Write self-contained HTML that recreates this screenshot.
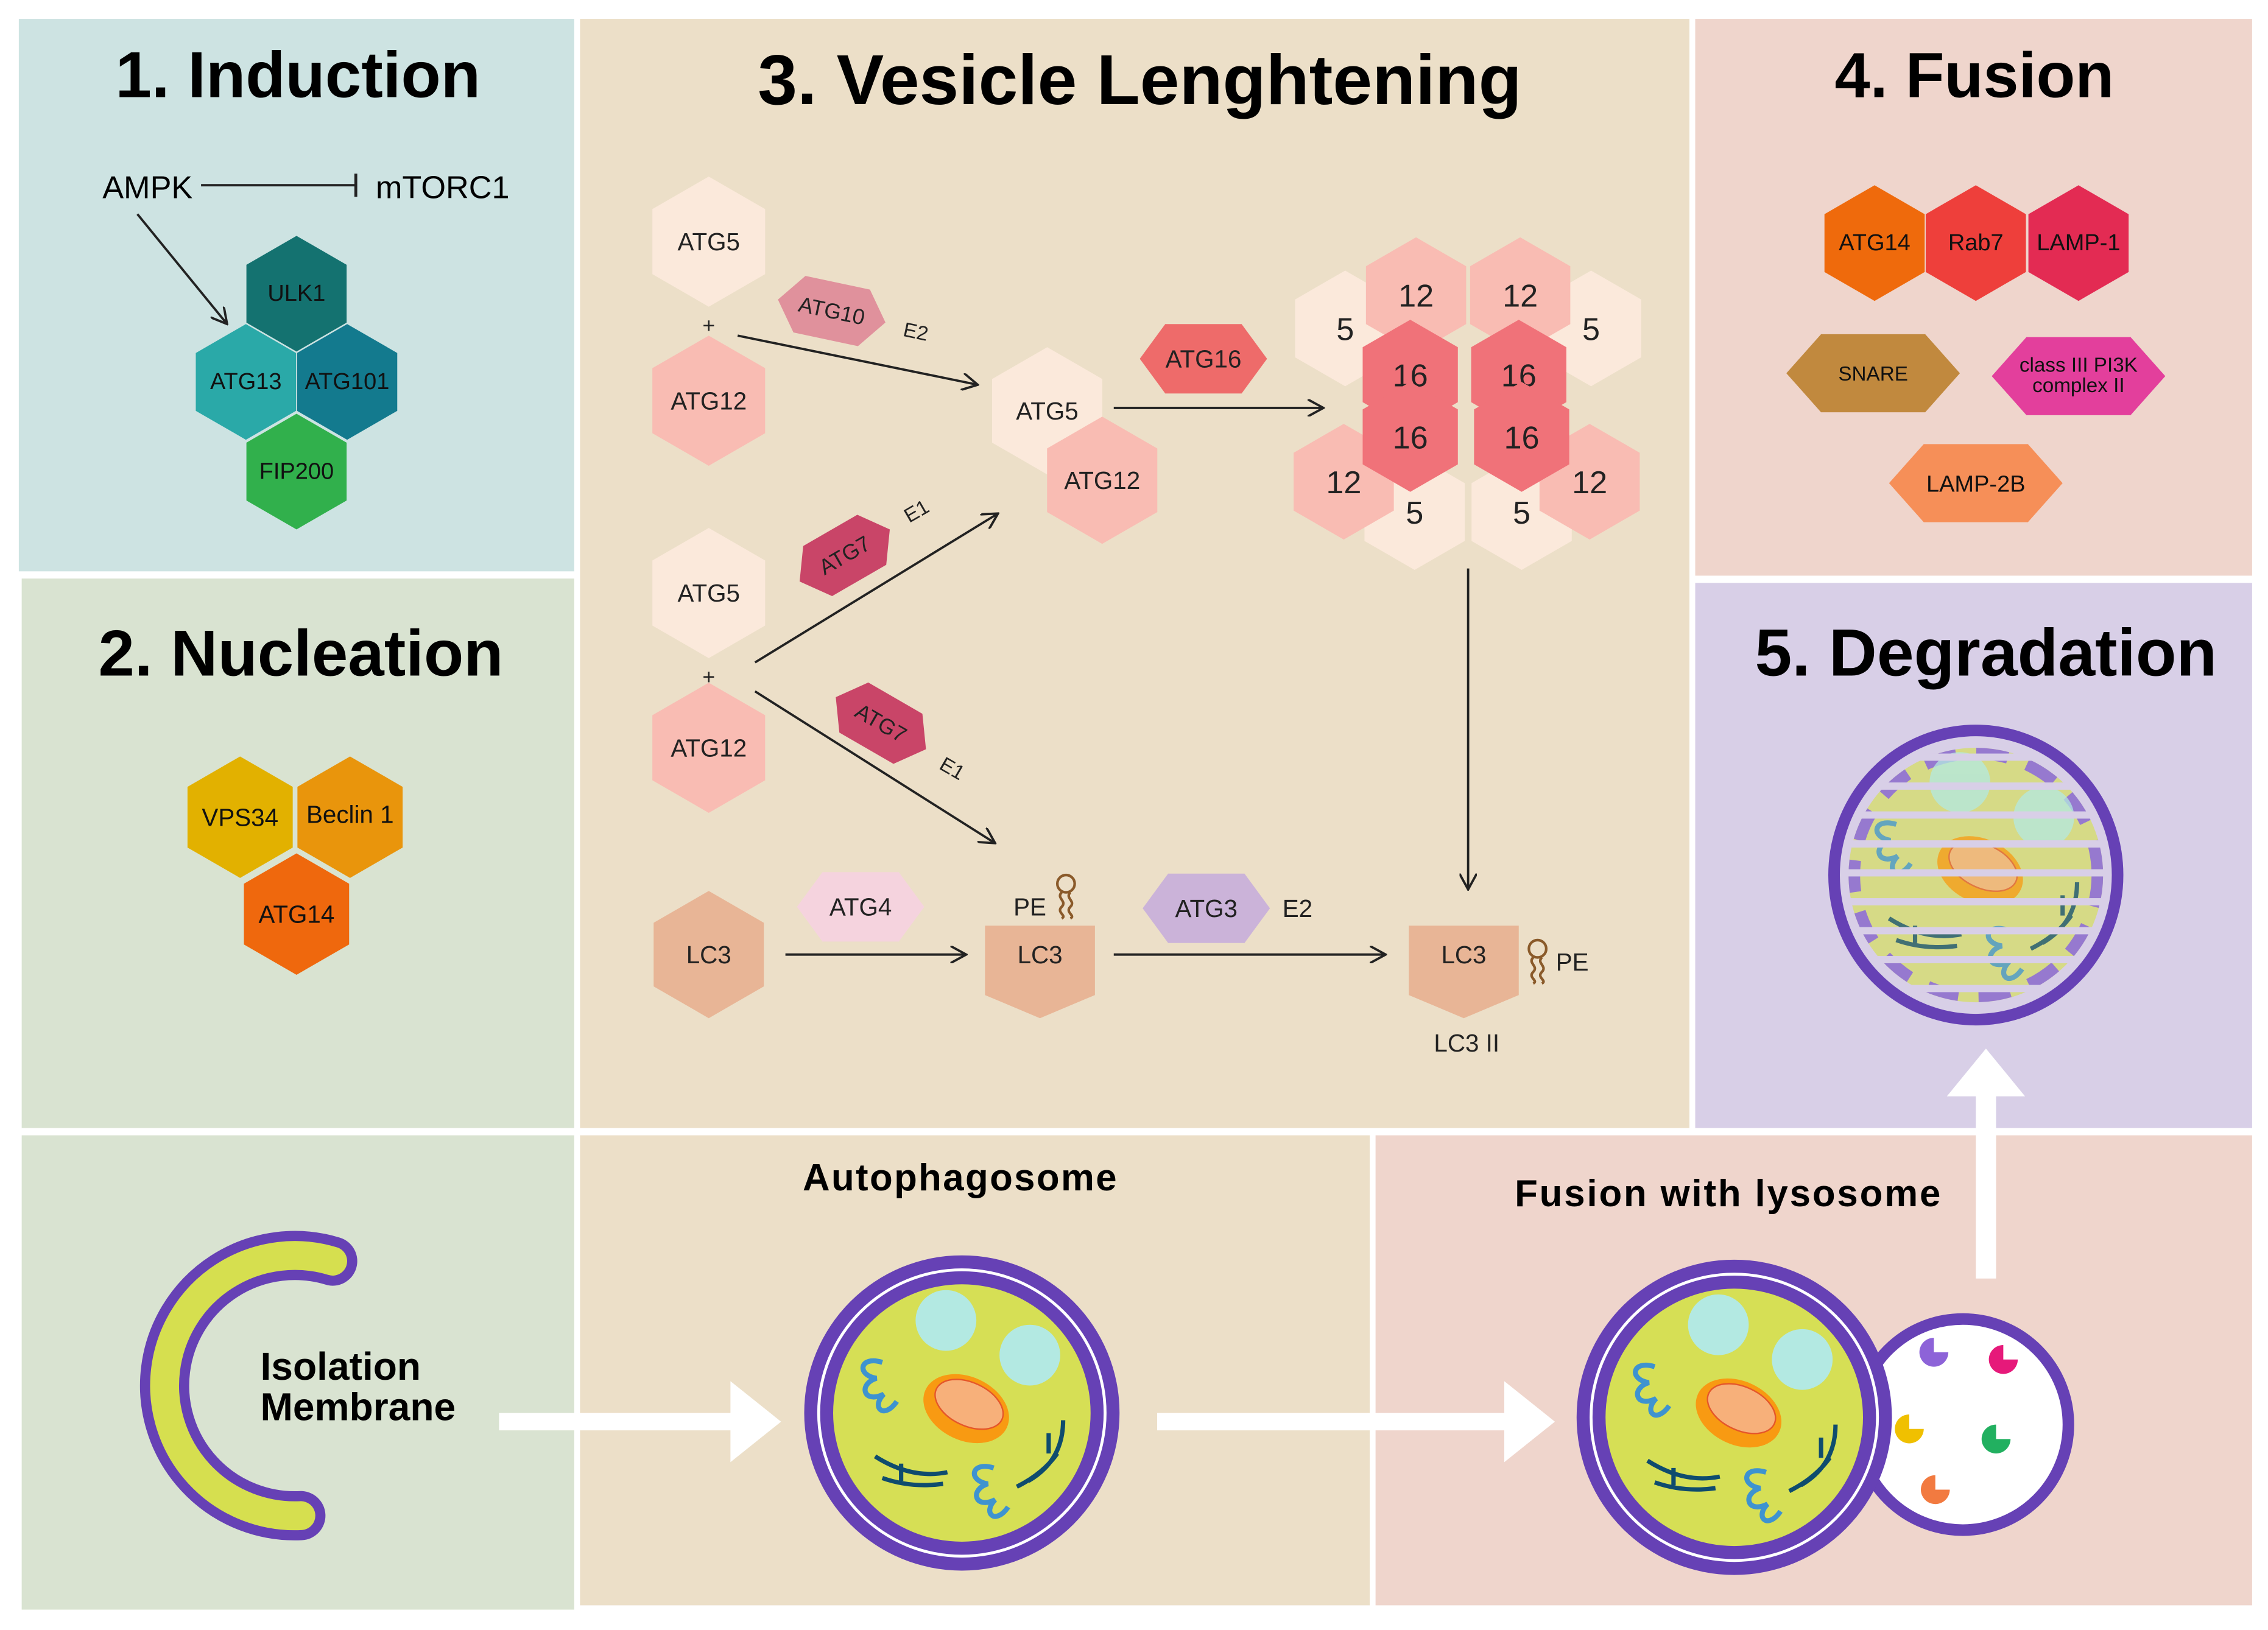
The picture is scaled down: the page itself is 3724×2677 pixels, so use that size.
<!DOCTYPE html>
<html><head><meta charset="utf-8"><style>
html,body{margin:0;padding:0;background:#fff}
svg{display:block}
text{font-family:"Liberation Sans",sans-serif}
</style></head><body>
<svg width="3724" height="2677" viewBox="0 0 1568 1127" xmlns="http://www.w3.org/2000/svg">
<defs>
<polygon id="h" points="0,-1 .866,-.5 .866,.5 0,1 -.866,.5 -.866,-.5"/>
<polygon id="fh" points="-1,0 -.6,-1 .6,-1 1,0 .6,1 -.6,1"/>
<marker id="ar" markerWidth="12" markerHeight="12" refX="11" refY="6" orient="auto" markerUnits="userSpaceOnUse"><path d="M0,0 L11,6 L0,12" fill="none" stroke="#222" stroke-width="1.6"/></marker>
<clipPath id="dc"><circle r="90"/></clipPath>
<g id="cell">
<circle r="21" cx="-11" cy="-64" fill="#b3e9e2"/>
<circle r="21" cx="47" cy="-40" fill="#b3e9e2"/>
<ellipse cx="3" cy="-3" rx="31" ry="22" transform="rotate(25 3 -3)" fill="#f89a12"/>
<ellipse cx="5" cy="-6" rx="25" ry="15" transform="rotate(25 5 -6)" fill="#f7b07a" stroke="#e5562a" stroke-width="1"/>
<path d="M-55,-35 c-16,-5 -18,9 -4,11 c-13,4 -9,18 5,11 c-9,9 0,18 9,5" fill="none" stroke="#3e93d0" stroke-width="3.5"/>
<path d="M22,38 c-16,-5 -18,9 -4,11 c-13,4 -9,18 5,11 c-9,9 0,18 9,5" fill="none" stroke="#3e93d0" stroke-width="3.5"/>
<path d="M-60,30 q25,16 50,11 M-55,45 q20,7 42,4 M-42,35 v12 M70,5 q0,28 -24,42 M66,28 q-10,14 -28,23 M60,14 v14" fill="none" stroke="#0f4c6e" stroke-width="3"/>
</g>
</defs>
<!-- panels -->
<rect x="13" y="13" width="384" height="382" fill="#cde3e2"/>
<rect x="15" y="400" width="382" height="380" fill="#d9e3d1"/>
<rect x="401" y="13" width="767" height="767" fill="#ecdfc8"/>
<rect x="1172" y="13" width="385" height="385" fill="#efd5cc"/>
<rect x="1172" y="403" width="385" height="377" fill="#d8cfe7"/>
<rect x="15" y="785" width="382" height="328" fill="#d9e3d1"/>
<rect x="401" y="785" width="546" height="325" fill="#ecdfc8"/>
<rect x="951" y="785" width="606" height="325" fill="#efd5cc"/>

<!-- Induction -->
<text x="206" y="67" font-size="45" font-weight="bold" text-anchor="middle">1. Induction</text>
<text x="102" y="137" font-size="22" text-anchor="middle">AMPK</text>
<line x1="139" y1="128" x2="246" y2="128" stroke="#222" stroke-width="1.6"/><line x1="246" y1="120" x2="246" y2="136" stroke="#222" stroke-width="2"/>
<text x="306" y="137" font-size="22" text-anchor="middle">mTORC1</text>
<line x1="95" y1="148" x2="157" y2="224" stroke="#222" stroke-width="1.6" marker-end="url(#ar)"/>
<use href="#h" transform="translate(205,203) scale(40)" fill="#147270"/>
<use href="#h" transform="translate(170,264) scale(40)" fill="#2aa9a8"/>
<use href="#h" transform="translate(240,264) scale(40)" fill="#137a8e"/>
<use href="#h" transform="translate(205,326) scale(40)" fill="#31b04c"/>
<g font-size="16" text-anchor="middle" fill="#111"><text x="205" y="208">ULK1</text><text x="170" y="269">ATG13</text><text x="240" y="269">ATG101</text><text x="205" y="331">FIP200</text></g>

<!-- Nucleation -->
<text x="208" y="467" font-size="45" font-weight="bold" text-anchor="middle">2. Nucleation</text>
<use href="#h" transform="translate(166,565) scale(42)" fill="#e2b100"/>
<use href="#h" transform="translate(242,565) scale(42)" fill="#e9950c"/>
<use href="#h" transform="translate(205,632) scale(42)" fill="#ef680d"/>
<g font-size="17" text-anchor="middle" fill="#111"><text x="166" y="571">VPS34</text><text x="242" y="569">Beclin 1</text><text x="205" y="638">ATG14</text></g>

<!-- Vesicle -->
<text x="788" y="72" font-size="49" font-weight="bold" text-anchor="middle">3. Vesicle Lenghtening</text>
<g fill="#222" font-size="17" text-anchor="middle">
<use href="#h" transform="translate(490,167) scale(45)" fill="#fbe9db"/><text x="490" y="173">ATG5</text>
<text x="490" y="230" font-size="15">+</text>
<use href="#h" transform="translate(490,277) scale(45)" fill="#f9bcb3"/><text x="490" y="283">ATG12</text>
<use href="#fh" transform="translate(575,215) rotate(12) scale(38,20)" fill="#e0919c"/><text x="575" y="220" font-size="15" transform="rotate(12 575 215)">ATG10</text>
<text x="633" y="234" font-size="14" transform="rotate(12 633 230)">E2</text>
<line x1="510" y1="232" x2="676" y2="266" stroke="#222" stroke-width="1.6" marker-end="url(#ar)"/>
<use href="#h" transform="translate(724,284) scale(44)" fill="#fbe9db"/><text x="724" y="290">ATG5</text>
<use href="#h" transform="translate(762,332) scale(44)" fill="#f9bcb3"/><text x="762" y="338">ATG12</text>
<use href="#fh" transform="translate(832,248) scale(44,24)" fill="#ee6b6a"/><text x="832" y="254">ATG16</text>
<line x1="770" y1="282" x2="915" y2="282" stroke="#222" stroke-width="1.6" marker-end="url(#ar)"/>
</g>
<g font-size="22" text-anchor="middle" fill="#222">
<use href="#h" transform="translate(930,227) scale(40)" fill="#fbe9db"/><text x="930" y="235">5</text>
<use href="#h" transform="translate(1100,227) scale(40)" fill="#fbe9db"/><text x="1100" y="235">5</text>
<use href="#h" transform="translate(979,204) scale(40)" fill="#f9bcb3"/><text x="979" y="212">12</text>
<use href="#h" transform="translate(1051,204) scale(40)" fill="#f9bcb3"/><text x="1051" y="212">12</text>
<use href="#h" transform="translate(978,354) scale(40)" fill="#fbe9db"/><text x="978" y="362">5</text>
<use href="#h" transform="translate(1052,354) scale(40)" fill="#fbe9db"/><text x="1052" y="362">5</text>
<use href="#h" transform="translate(929,333) scale(40)" fill="#f9bcb3"/><text x="929" y="341">12</text>
<use href="#h" transform="translate(1099,333) scale(40)" fill="#f9bcb3"/><text x="1099" y="341">12</text>
<use href="#h" transform="translate(975,259) scale(38)" fill="#f07279"/><text x="975" y="267">16</text>
<use href="#h" transform="translate(1050,259) scale(38)" fill="#f07279"/><text x="1050" y="267">16</text>
<use href="#h" transform="translate(975,302) scale(38)" fill="#f07279"/><text x="975" y="310">16</text>
<use href="#h" transform="translate(1052,302) scale(38)" fill="#f07279"/><text x="1052" y="310">16</text>
</g>
<line x1="1015" y1="393" x2="1015" y2="615" stroke="#222" stroke-width="1.6" marker-end="url(#ar)"/>
<g fill="#222" font-size="17" text-anchor="middle">
<use href="#h" transform="translate(490,410) scale(45)" fill="#fbe9db"/><text x="490" y="416">ATG5</text>
<text x="490" y="473" font-size="15">+</text>
<use href="#h" transform="translate(490,517) scale(45)" fill="#f9bcb3"/><text x="490" y="523">ATG12</text>
<use href="#fh" transform="translate(584,384) rotate(-30) scale(36,20)" fill="#c94568"/><text x="584" y="389" font-size="15" transform="rotate(-30 584 384)">ATG7</text>
<text x="634" y="358" font-size="14" transform="rotate(-30 634 354)">E1</text>
<line x1="522" y1="458" x2="690" y2="355" stroke="#222" stroke-width="1.6" marker-end="url(#ar)"/>
<use href="#fh" transform="translate(609,500) rotate(30) scale(36,20)" fill="#c94568"/><text x="609" y="505" font-size="15" transform="rotate(30 609 500)">ATG7</text>
<text x="658" y="536" font-size="14" transform="rotate(30 658 532)">E1</text>
<line x1="522" y1="478" x2="688" y2="583" stroke="#222" stroke-width="1.6" marker-end="url(#ar)"/>
<use href="#h" transform="translate(490,660) scale(44)" fill="#e8b596"/><text x="490" y="666">LC3</text>
<line x1="543" y1="660" x2="668" y2="660" stroke="#222" stroke-width="1.6" marker-end="url(#ar)"/>
<use href="#fh" transform="translate(595,627) scale(44,24)" fill="#f5d3de"/><text x="595" y="633">ATG4</text>
<polygon points="681,640 757,640 757,688 719,704 681,688" fill="#e8b596"/><text x="719" y="666">LC3</text>
<text x="712" y="633">PE</text>
<g fill="none" stroke="#8a5a2a" stroke-width="1.8"><circle cx="737" cy="611" r="6"/><path d="M734,617 c-4,4 4,6 0,10 c-4,4 4,6 0,8 M740,617 c-4,4 4,6 0,10 c-4,4 4,6 0,8"/></g>
<use href="#fh" transform="translate(834,628) scale(44,24)" fill="#cbb3d9"/><text x="834" y="634">ATG3</text>
<text x="897" y="634">E2</text>
<line x1="770" y1="660" x2="958" y2="660" stroke="#222" stroke-width="1.6" marker-end="url(#ar)"/>
<polygon points="974,640 1050,640 1050,688 1012,704 974,688" fill="#e8b596"/><text x="1012" y="666">LC3</text>
<g fill="none" stroke="#8a5a2a" stroke-width="1.8"><circle cx="1063" cy="656" r="6"/><path d="M1060,662 c-4,4 4,6 0,10 c-4,4 4,6 0,8 M1066,662 c-4,4 4,6 0,10 c-4,4 4,6 0,8"/></g>
<text x="1087" y="671">PE</text>
<text x="1014" y="727">LC3 II</text>
</g>

<!-- Fusion -->
<text x="1365" y="67" font-size="44" font-weight="bold" text-anchor="middle">4. Fusion</text>
<use href="#h" transform="translate(1296,168) scale(40)" fill="#ef6a0c"/>
<use href="#h" transform="translate(1366,168) scale(40)" fill="#ee3f3b"/>
<use href="#h" transform="translate(1437,168) scale(40)" fill="#e32b53"/>
<use href="#fh" transform="translate(1295,258) scale(60,27)" fill="#c1893e"/>
<use href="#fh" transform="translate(1437,260) scale(60,27)" fill="#e33f9c"/>
<use href="#fh" transform="translate(1366,334) scale(60,27)" fill="#f68f58"/>
<g font-size="16" text-anchor="middle" fill="#111">
<text x="1296" y="173">ATG14</text><text x="1366" y="173">Rab7</text><text x="1437" y="173">LAMP-1</text>
<text x="1295" y="263" font-size="14">SNARE</text>
<text x="1437" y="257" font-size="14">class III PI3K</text><text x="1437" y="271" font-size="14">complex II</text>
<text x="1366" y="340">LAMP-2B</text>
</g>

<!-- Degradation -->
<text x="1373" y="467" font-size="46" font-weight="bold" text-anchor="middle">5. Degradation</text>
<g transform="translate(1366,605)">
<ellipse rx="98" ry="100" fill="#d8cfe7" stroke="#6641b5" stroke-width="8"/>
<g clip-path="url(#dc)">
<circle r="88" fill="#d6da86"/>
<circle r="84" fill="none" stroke="#9679cf" stroke-width="8" stroke-dasharray="22 14"/>
<g opacity="0.75"><use href="#cell"/></g>
<g fill="#d8cfe7">
<rect x="-100" y="-84" width="200" height="5"/><rect x="-100" y="-64" width="200" height="5"/><rect x="-100" y="-44" width="200" height="5"/><rect x="-100" y="-24" width="200" height="5"/><rect x="-100" y="-4" width="200" height="5"/><rect x="-100" y="16" width="200" height="5"/><rect x="-100" y="36" width="200" height="5"/><rect x="-100" y="56" width="200" height="5"/><rect x="-100" y="76" width="200" height="5"/>
</g>
</g>
</g>
<polygon points="1366,884 1380,884 1380,758 1400,758 1373,725 1346,758 1366,758" fill="#fff"/>

<!-- Bottom -->
<g transform="translate(8,0)">
<path d="M222,872 A90,90 0 1 0 200,1048" fill="none" stroke="#6641b5" stroke-width="34" stroke-linecap="round"/>
<path d="M222,872 A90,90 0 1 0 200,1048" fill="none" stroke="#d6df4f" stroke-width="20" stroke-linecap="round"/>
</g>
<text x="180" y="954" font-size="27" font-weight="bold">Isolation</text>
<text x="180" y="982" font-size="27" font-weight="bold">Membrane</text>
<polygon points="345,977 505,977 505,955 540,983 505,1011 505,989 345,989" fill="#fff"/>
<text x="664" y="823" font-size="26" font-weight="bold" text-anchor="middle" letter-spacing="1">Autophagosome</text>
<g transform="translate(665,977)">
<circle r="109" fill="#6641b5"/><circle r="100" fill="#fff"/><circle r="98" fill="#6641b5"/><circle r="89" fill="#d6df55"/>
<use href="#cell"/>
</g>
<polygon points="800,977 1040,977 1040,955 1075,983 1040,1011 1040,989 800,989" fill="#fff"/>
<text x="1195" y="834" font-size="26" font-weight="bold" text-anchor="middle" letter-spacing="1.2">Fusion with lysosome</text>
<circle cx="1357" cy="985" r="73" fill="#fff" stroke="#6641b5" stroke-width="8"/>
<g transform="translate(1199,980)">
<circle r="109" fill="#6641b5"/><circle r="100" fill="#fff"/><circle r="98" fill="#6641b5"/><circle r="89" fill="#d6df55"/>
<use href="#cell"/>
</g>
<g>
<path d="M1337,935 m0,-10 a10,10 0 1 0 10,10 l-10,0z" fill="#8d63d8"/>
<path d="M1385,940 m0,-10 a10,10 0 1 0 10,10 l-10,0z" fill="#e6197a"/>
<path d="M1320,988 m0,-10 a10,10 0 1 0 10,10 l-10,0z" fill="#f0c000"/>
<path d="M1380,995 m0,-10 a10,10 0 1 0 10,10 l-10,0z" fill="#22b060"/>
<path d="M1338,1030 m0,-10 a10,10 0 1 0 10,10 l-10,0z" fill="#f27a40"/>
</g>
</svg>
</body></html>
